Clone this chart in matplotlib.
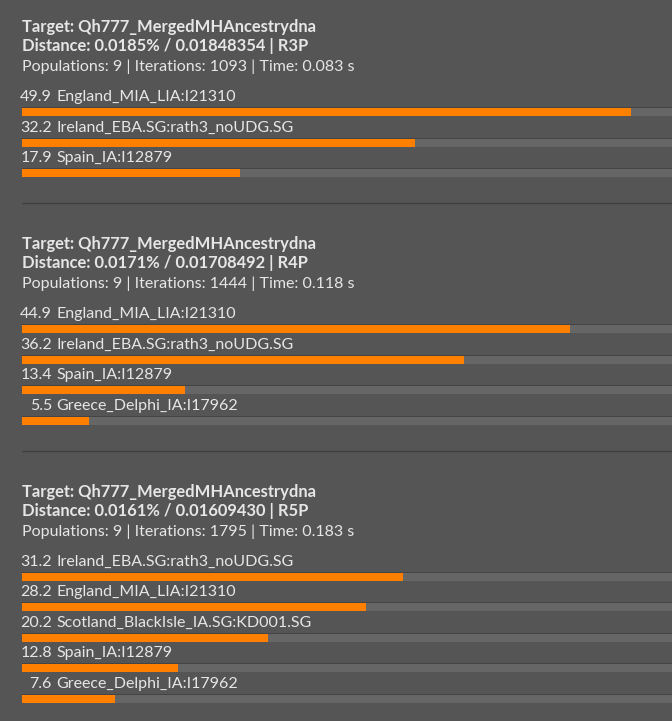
import matplotlib.pyplot as plt

# --- data ---
target = "Qh777_MergedMHAncestrydna"
distances = ["0.0185% / 0.01848354 | R3P",
             "0.0171% / 0.01708492 | R4P",
             "0.0161% / 0.01609430 | R5P"]
populations = [9, 9, 9]
iterations = [1093, 1444, 1795]
times = ["0.083", "0.118", "0.183"]

names_r3p = ["England_MIA_LIA:I21310", "Ireland_EBA.SG:rath3_noUDG.SG", "Spain_IA:I12879"]
values_r3p = [49.9, 32.2, 17.9]
names_r4p = ["England_MIA_LIA:I21310", "Ireland_EBA.SG:rath3_noUDG.SG", "Spain_IA:I12879",
             "Greece_Delphi_IA:I17962"]
values_r4p = [44.9, 36.2, 13.4, 5.5]
names_r5p = ["Ireland_EBA.SG:rath3_noUDG.SG", "England_MIA_LIA:I21310",
             "Scotland_BlackIsle_IA.SG:KD001.SG", "Spain_IA:I12879", "Greece_Delphi_IA:I17962"]
values_r5p = [31.2, 28.2, 20.2, 12.8, 7.6]

blocks = [(names_r3p, values_r3p), (names_r4p, values_r4p), (names_r5p, values_r5p)]

# --- style ---
BG = "#555555"
TEXT = "#e6e6e6"
ORANGE = "#ff8000"
TRACK = "#666666"
EDGE = "#444444"
FONT = "Lato"

W, H = 672, 721
LEFT = 22          # pixel where the bars start
SCALE = 12.2       # pixels per percent
XMAX = (W - LEFT) / SCALE

fig = plt.figure(figsize=(W / 100, H / 100), dpi=100, facecolor=BG)
ax = fig.add_axes([0, 0, 1, 1])
ax.set_facecolor(BG)
ax.set_xlim(-LEFT / SCALE, XMAX)
ax.set_ylim(H, 0)   # y in pixels, top down
ax.axis("off")

ROW = 30.5
top = 27
for b, (names, values) in enumerate(blocks):
    ax.text(0, top, "Target: " + target, color=TEXT, fontsize=11.9, fontweight="bold",
            family=FONT, va="center", ha="left")
    ax.text(0, top + 19, "Distance: " + distances[b], color=TEXT, fontsize=11.9,
            fontweight="bold", family=FONT, va="center", ha="left")
    ax.text(0, top + 40, f"Populations: {populations[b]} | Iterations: {iterations[b]} | Time: {times[b]} s",
            color=TEXT, fontsize=11.5, family=FONT, va="center", ha="left")

    for i, (name, val) in enumerate(zip(names, values)):
        ly = top + 70 + ROW * i
        by = top + 85 + ROW * i
        ax.text(30 / SCALE, ly, f"{val:.1f}", color=TEXT, fontsize=11.5, family=FONT,
                va="center", ha="right")
        ax.text(34 / SCALE, ly, name, color=TEXT, fontsize=11.5, family=FONT,
                va="center", ha="left")
        # grey track with a dark top edge, then the orange value bar
        ax.barh(by - 4.5, XMAX, height=1, left=0, color=EDGE, linewidth=0)
        ax.barh(by, XMAX, height=8, left=0, color=TRACK, linewidth=0)
        ax.barh(by, val, height=8, left=0, color=ORANGE, linewidth=0)

    sep = top + 89 + ROW * (len(names) - 1) + 26
    ax.plot([0, XMAX], [sep, sep], color="#404040", linewidth=1.0, solid_capstyle="butt")
    top = top + 125.7 + ROW * len(names)

fig.savefig("out.png", dpi=100, facecolor=BG)
